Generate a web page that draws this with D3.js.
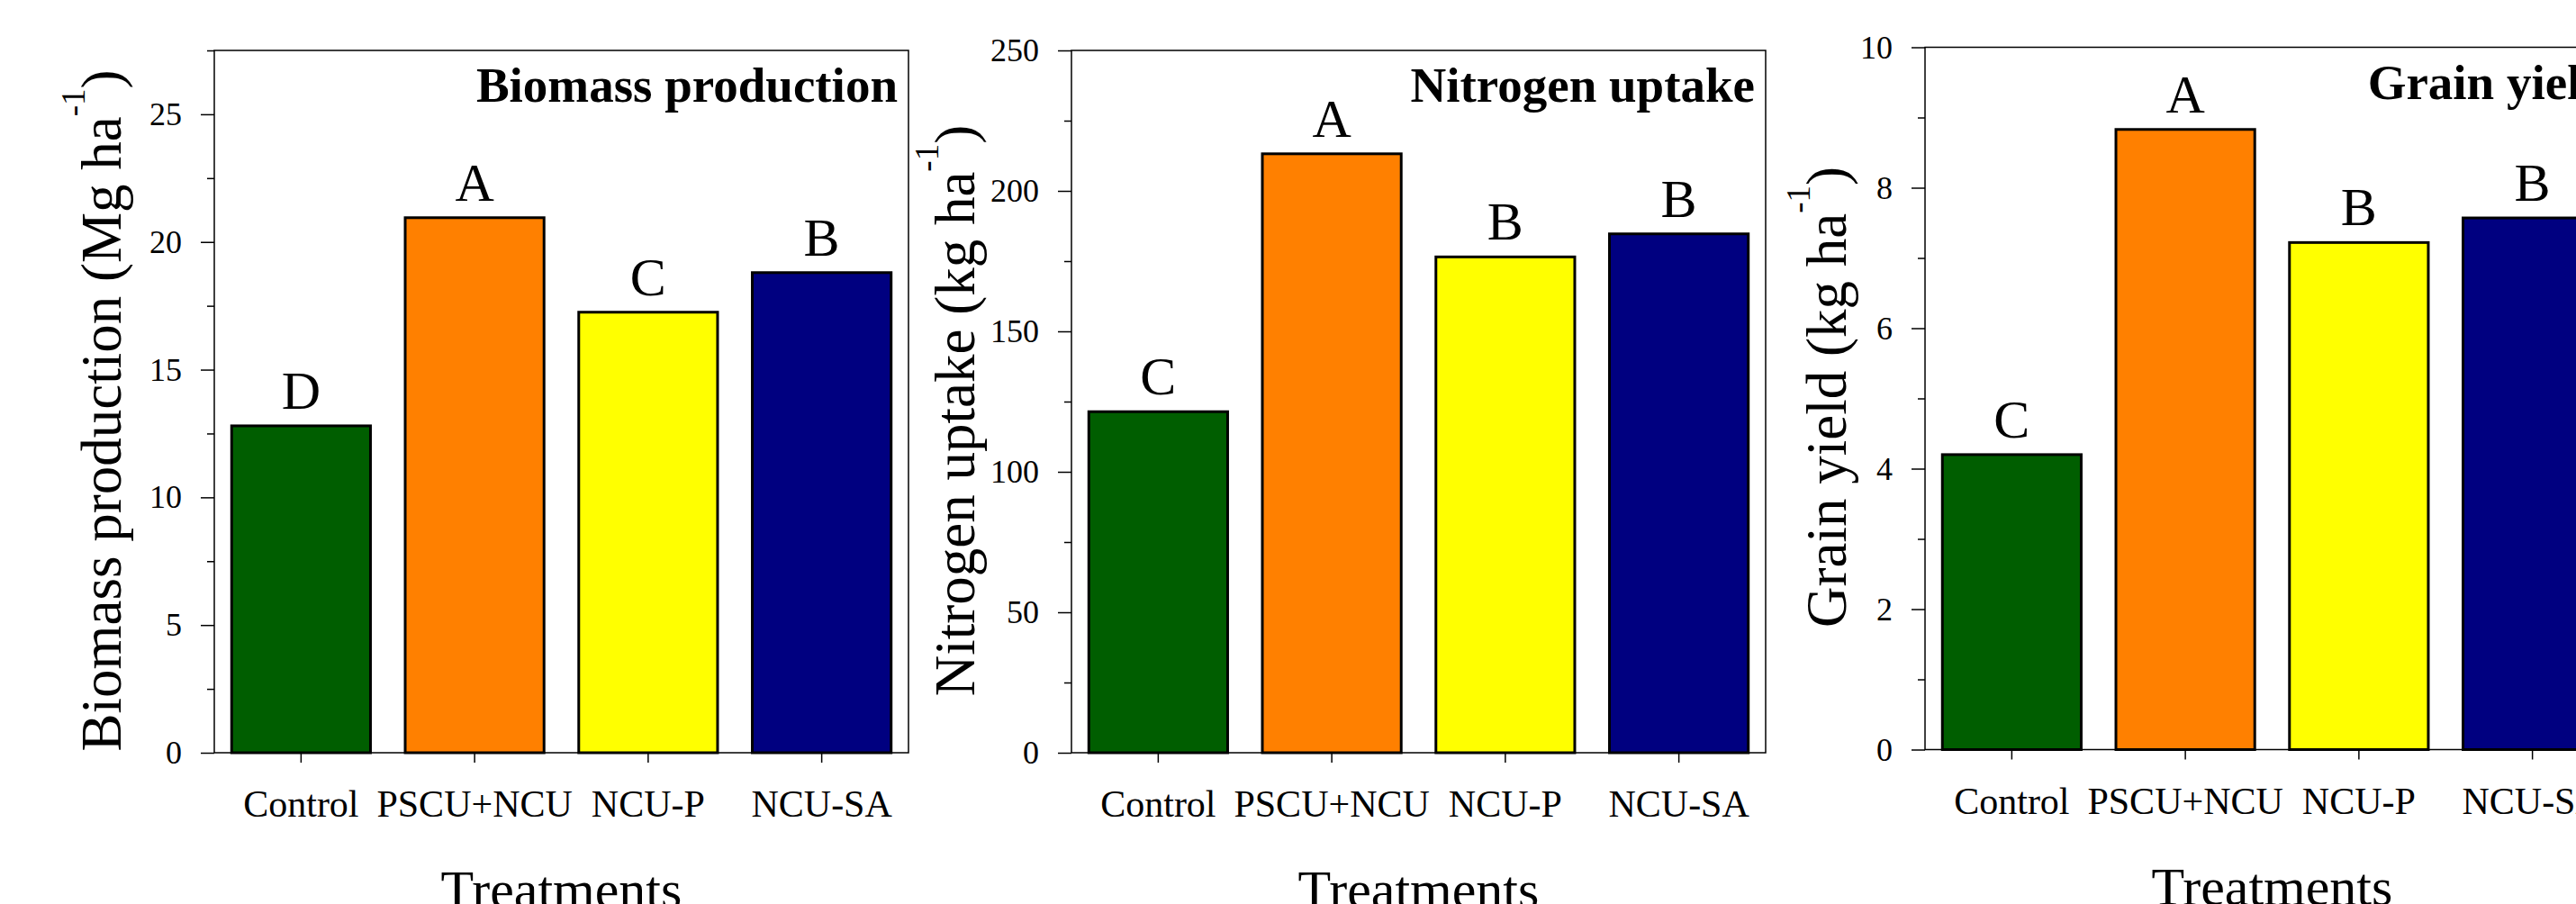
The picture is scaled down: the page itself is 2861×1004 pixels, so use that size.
<!DOCTYPE html>
<html>
<head>
	<script src="https://d3js.org/d3.v7.min.js"></script>
	<style>
		body { margin: 0; background: #fff; }
		svg { display: block; }
		text { font-family: "Liberation Serif", "Times New Roman", serif; fill: #000; }
		.domain { display: none; }
		.tick line { stroke: #000; stroke-width: 1.5; }
	</style>
</head>
<body>
	<div class="chart"></div>
	<script>
		var w = 2861, h = 1004;

		// data
		var treatments = ["Control", "PSCU+NCU", "NCU-P", "NCU-SA"];
		var barColors = ["#005e00", "#ff8000", "#ffff00", "#000080"];

		var biomass = [12.8, 20.95, 17.25, 18.8];
		var biomassLetters = ["D", "A", "C", "B"];
		var biomassTicks = [0, 5, 10, 15, 20, 25];
		var biomassMinor = [2.5, 7.5, 12.5, 17.5, 22.5, 27.5];

		var nitrogen = [121.4, 213.2, 176.5, 184.7];
		var nitrogenLetters = ["C", "A", "B", "B"];
		var nitrogenTicks = [0, 50, 100, 150, 200, 250];
		var nitrogenMinor = [25, 75, 125, 175, 225];

		var grain = [4.2, 8.83, 7.22, 7.57];
		var grainLetters = ["C", "A", "B", "B"];
		var grainTicks = [0, 2, 4, 6, 8, 10];
		var grainMinor = [1, 3, 5, 7, 9];

		var panels = [
			{values: biomass, letters: biomassLetters, ticks: biomassTicks, minor: biomassMinor, max: 27.5,
			 title: "Biomass production", ylabel: "Biomass production (Mg ha",
			 x0: 238, x1: 1009, y0: 56, y1: 836, labelX: 134, labelY: 456},
			{values: nitrogen, letters: nitrogenLetters, ticks: nitrogenTicks, minor: nitrogenMinor, max: 250,
			 title: "Nitrogen uptake", ylabel: "Nitrogen uptake (kg ha",
			 x0: 1190, x1: 1961, y0: 56, y1: 836, labelX: 1082, labelY: 456},
			{values: grain, letters: grainLetters, ticks: grainTicks, minor: grainMinor, max: 10,
			 title: "Grain yield", ylabel: "Grain yield (kg ha",
			 x0: 2138, x1: 2909, y0: 52.5, y1: 832.5, labelX: 2050, labelY: 441}
		];

		var svg = d3.select(".chart")
			.append("svg")
			.attr("width", w)
			.attr("height", h);

		svg.append("rect")
			.attr("width", w)
			.attr("height", h)
			.attr("fill", "#fff");

		panels.forEach(function(p) {
			var x = d3.scaleBand()
				.domain(treatments)
				.range([p.x0, p.x1])
				.paddingInner(0.2)
				.paddingOuter(0.1);
			var y = d3.scaleLinear()
				.domain([0, p.max])
				.range([p.y1, p.y0]);

			var g = svg.append("g");

			// bars
			g.selectAll(".bar")
				.data(p.values)
				.enter()
				.append("rect")
				.attr("class", "bar")
				.attr("x", function(d, i) { return x(treatments[i]); })
				.attr("y", function(d) { return y(d); })
				.attr("width", x.bandwidth())
				.attr("height", function(d) { return y(0) - y(d); })
				.attr("fill", function(d, i) { return barColors[i]; })
				.attr("stroke", "#000")
				.attr("stroke-width", 3);

			// significance letters
			g.selectAll(".letter")
				.data(p.values)
				.enter()
				.append("text")
				.attr("class", "letter")
				.attr("x", function(d, i) { return x(treatments[i]) + x.bandwidth() / 2; })
				.attr("y", function(d) { return y(d) - 19; })
				.attr("text-anchor", "middle")
				.style("font-size", "60px")
				.text(function(d, i) { return p.letters[i]; });

			// frame
			g.append("rect")
				.attr("x", p.x0)
				.attr("y", p.y0)
				.attr("width", p.x1 - p.x0)
				.attr("height", p.y1 - p.y0)
				.attr("fill", "none")
				.attr("stroke", "#000")
				.attr("stroke-width", 1.5);

			// y axis
			g.append("g")
				.attr("transform", "translate(" + p.x0 + ",0)")
				.call(d3.axisLeft(y).tickValues(p.minor).tickSize(8).tickSizeOuter(0).tickFormat(""));
			g.append("g")
				.attr("transform", "translate(" + p.x0 + ",0)")
				.call(d3.axisLeft(y).tickValues(p.ticks).tickSize(15).tickSizeOuter(0).tickPadding(21))
				.selectAll("text")
				.style("font-size", "36px");

			// x axis
			g.append("g")
				.attr("transform", "translate(0," + p.y1 + ")")
				.call(d3.axisBottom(x).tickSize(11).tickSizeOuter(0).tickPadding(60))
				.selectAll("text")
				.attr("dy", "0")
				.style("font-size", "42px");

			// panel title
			g.append("text")
				.attr("x", p.x1 - 12)
				.attr("y", p.y0 + 57)
				.attr("text-anchor", "end")
				.style("font-size", "55px")
				.style("font-weight", "bold")
				.text(p.title);

			// y axis title with superscript
			var yl = g.append("text")
				.attr("transform", "translate(" + p.labelX + "," + p.labelY + ") rotate(-90)")
				.attr("text-anchor", "middle")
				.style("font-size", "63px");
			yl.append("tspan").text(p.ylabel);
			yl.append("tspan").attr("dy", -40).style("font-size", "37px").text("-1");
			yl.append("tspan").attr("dy", 40).text(")");

			// x axis title
			g.append("text")
				.attr("x", (p.x0 + p.x1) / 2)
				.attr("y", p.y1 + 172)
				.attr("text-anchor", "middle")
				.style("font-size", "60px")
				.text("Treatments");
		});
	</script>
</body>
</html>
